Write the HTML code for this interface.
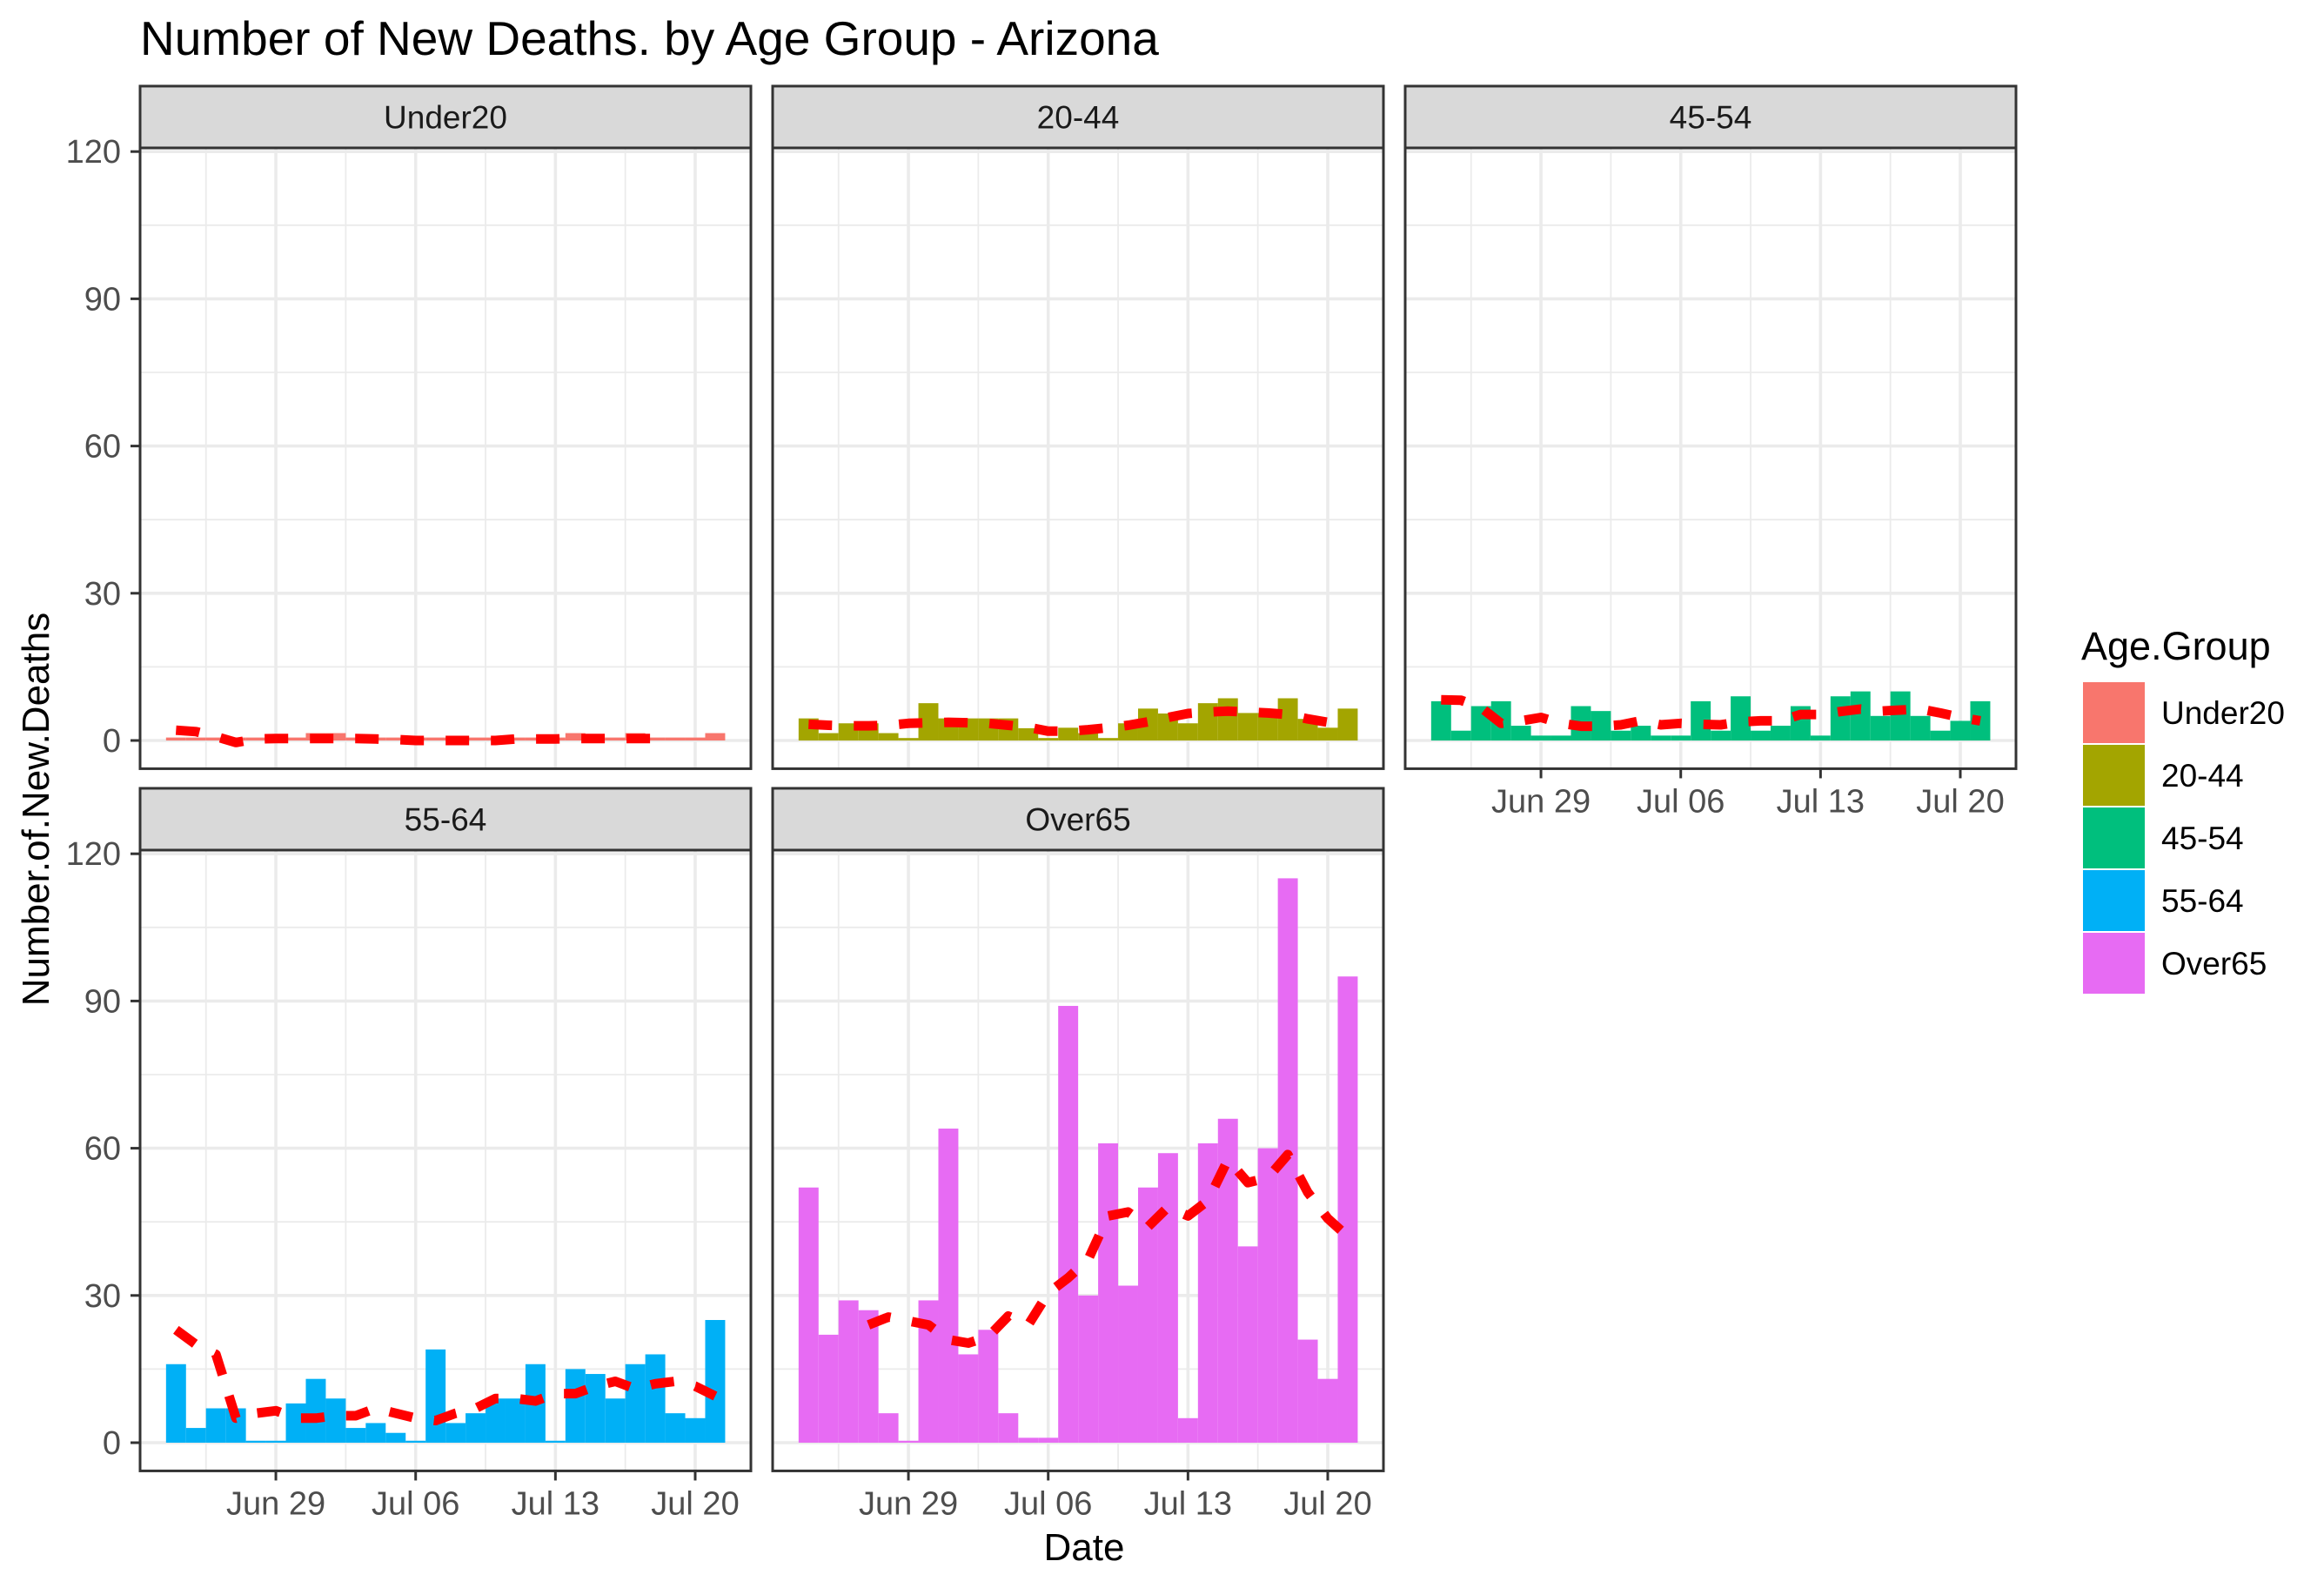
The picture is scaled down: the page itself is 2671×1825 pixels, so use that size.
<!DOCTYPE html>
<html><head><meta charset="utf-8"><title>Number of New Deaths by Age Group - Arizona</title>
<style>html,body{margin:0;padding:0;background:#fff}svg{display:block}</style></head>
<body>
<svg id="chart" xmlns="http://www.w3.org/2000/svg" width="2671" height="1825" viewBox="0 0 2671 1825" font-family="Liberation Sans, Arial, sans-serif">
<rect width="2671" height="1825" fill="#fff"/>
<text x="161" y="63" font-size="55" fill="#000">Number of New Deaths. by Age Group - Arizona</text>
<text x="1246" y="1793" font-size="44" text-anchor="middle" fill="#000">Date</text>
<text transform="translate(56,930) rotate(-90)" font-size="44" text-anchor="middle" fill="#000">Number.of.New.Deaths</text>
<g id="panels"></g>
<g id="legend">
<text x="2392" y="758" font-size="45" fill="#000">Age.Group</text>
</g>
</svg>
<script>
const dayLabels = ["Jun 24","Jun 25","Jun 26","Jun 27","Jun 28","Jun 29","Jun 30","Jul 01","Jul 02","Jul 03","Jul 04","Jul 05","Jul 06","Jul 07","Jul 08","Jul 09","Jul 10","Jul 11","Jul 12","Jul 13","Jul 14","Jul 15","Jul 16","Jul 17","Jul 18","Jul 19","Jul 20","Jul 21"];
const groups = ["Under20","20-44","45-54","55-64","Over65"];
const groupColors = ["#F8766D","#A3A500","#00BF7D","#00B0F6","#E76BF3"];
const xTickLabels = ["Jun 29","Jul 06","Jul 13","Jul 20"];
const yTickValues = [0,30,60,90,120];
const under20Deaths = [0.6,0.6,0.6,0.6,0.6,0.6,0.6,1.5,1.5,0.6,0.6,0.6,0.6,0.6,0.6,0.6,0.6,0.6,0.6,0.6,1.5,0.6,0.6,1.5,0.6,0.6,0.6,1.5];
const age2044Deaths = [4.5,1.5,3.5,3.5,1.5,0.5,7.6,4.5,4.5,4.5,4.5,2.5,0.5,2.6,1.5,0.5,3.5,6.5,5.5,3.5,7.6,8.6,5.6,5.6,8.6,4.4,2.6,6.5];
const age4554Deaths = [8,2,7,8,3,1,1,7,6,2,3,1,1,8,2,9,2,3,7,1,9,10,5,10,5,2,4,8];
const age5564Deaths = [16,3,7,7,0.4,0.4,8,13,9,3,4,2,0.4,19,4,6,9,9,16,0.4,15,14,9,16,18,6,5,25];
const over65Deaths = [52,22,29,27,6,0.4,29,64,18,23,6,1,1,89,30,61,32,52,59,5,61,66,40,60,115,21,13,95];
const under20Avg = [2.1,1.8,0.8,-0.4,0.3,0.4,0.4,0.4,0.4,0.4,0.3,0.2,0,0,0,0,0,0.3,0.3,0.3,0.4,0.4,0.4,0.4,0.4,null,null,null];
const age2044Avg = [3.3,3.1,3.0,3.0,3.1,3.5,3.6,3.7,3.6,3.5,3.1,2.7,1.9,1.9,2.2,2.6,3.1,3.8,4.7,5.5,5.8,6.0,5.8,5.6,5.3,4.4,3.7,null];
const age4554Avg = [8.3,8.2,6.7,3.5,4.0,4.7,3.5,2.9,2.9,3.2,4.0,3.2,3.5,3.3,3.2,3.8,4.0,4.0,5.3,5.3,5.9,6.4,6.0,6.2,6.4,5.6,4.7,4.0];
const age5564Avg = [23,20,18,5,6,6.5,5,5,5.5,5.5,7,6,5,4.5,6,7,9,9,8.5,10,10,11.5,12.5,11,12,12.5,11.5,9.5];
const over65Avg = [null,null,null,24,25.6,24.8,24,21,20.3,21.6,25.8,24,30.5,33.6,37.3,46.2,47,44,48,46.2,49.3,57.7,53,54,58.7,51,45.7,42];

const seriesValues = [under20Deaths, age2044Deaths, age4554Deaths, age5564Deaths, over65Deaths];
const seriesAvg = [under20Avg, age2044Avg, age4554Avg, age5564Avg, over65Avg];

const NS = "http://www.w3.org/2000/svg";
const PW = 702, DAYPX = 22.95, XMIN = -1.8;
const UNIT = 5.64, YMAX = 120.75, YMIN = -5.75;
const colLeft = [161, 888, 1615];
const rowZero = [851, 1658];
const panelPos = [[0,0],[1,0],[2,0],[0,1],[1,1]];
const tickIdx = xTickLabels.map(l => dayLabels.indexOf(l));

function mk(tag, attrs, parent){
  const e = document.createElementNS(NS, tag);
  for (const k in attrs) e.setAttribute(k, attrs[k]);
  parent.appendChild(e);
  return e;
}
const panelsG = document.getElementById('panels');

groups.forEach((g, gi) => {
  const col = panelPos[gi][0], row = panelPos[gi][1];
  const left = colLeft[col], zero = rowZero[row];
  const xs = d => left + (d - XMIN) * DAYPX;
  const ys = v => zero - v * UNIT;
  const top = ys(YMAX), bottom = ys(YMIN);
  const pg = mk('g', {}, panelsG);
  
  
  mk('rect', {x:left, y:top, width:PW, height:bottom-top, fill:'#fff'}, pg);
  const gridG = mk('g', {}, pg);
  
  
  for (let v = 15; v < YMAX; v += 30) mk('line', {x1:left, x2:left+PW, y1:ys(v), y2:ys(v), stroke:'#ebebeb', 'stroke-width':1.8}, gridG);
  tickIdx.forEach(t => { const m = t - 3.5; mk('line', {x1:xs(m), x2:xs(m), y1:top, y2:bottom, stroke:'#ebebeb', 'stroke-width':1.8}, gridG); });
  yTickValues.forEach(v => mk('line', {x1:left, x2:left+PW, y1:ys(v), y2:ys(v), stroke:'#ebebeb', 'stroke-width':3.6}, gridG));
  tickIdx.forEach(t => mk('line', {x1:xs(t), x2:xs(t), y1:top, y2:bottom, stroke:'#ebebeb', 'stroke-width':3.6}, gridG));
  const vals = seriesValues[gi];
  vals.forEach((v, i) => {
    const r = mk('rect', {x:xs(i-0.5), y:Math.min(ys(v), ys(0)), width:DAYPX, height:Math.abs(ys(0)-ys(v)), fill:groupColors[gi]}, pg);
    
    
  });
  const avg = seriesAvg[gi];
  let d = '', started = false;
  avg.forEach((v, i) => {
    if (v === null) { started = false; return; }
    d += (started ? 'L' : 'M') + xs(i).toFixed(1) + ',' + ys(v).toFixed(1);
    started = true;
  });
  const ln = mk('path', {d:d, fill:'none', stroke:'#ff0000', 'stroke-width':11, 'stroke-dasharray':'27 25', 'stroke-linejoin':'round'}, pg);
  
  
  mk('rect', {x:left, y:top, width:PW, height:bottom-top, fill:'none', stroke:'#333', 'stroke-width':3}, pg);
  const st = mk('rect', {x:left, y:top-71, width:PW, height:71, fill:'#d9d9d9', stroke:'#333', 'stroke-width':3}, pg);
  
  
  const stt = mk('text', {x:left+PW/2, y:top-35.5+13, 'font-size':37, 'text-anchor':'middle', fill:'#1a1a1a'}, pg);
  stt.textContent = g;
  
  
  if (col === 0) {
    yTickValues.forEach(v => {
      mk('line', {x1:left-11, x2:left, y1:ys(v), y2:ys(v), stroke:'#333', 'stroke-width':3}, pg);
      const t = mk('text', {x:left-22, y:ys(v)+13, 'font-size':38, 'text-anchor':'end', fill:'#4d4d4d'}, pg);
      t.textContent = v;
      
      
    });
  }
  if (row === 1 || col === 2) {
    tickIdx.forEach((ti, k) => {
      mk('line', {x1:xs(ti), x2:xs(ti), y1:bottom, y2:bottom+11, stroke:'#333', 'stroke-width':3}, pg);
      const t = mk('text', {x:xs(ti), y:bottom+50, 'font-size':38, 'text-anchor':'middle', fill:'#4d4d4d'}, pg);
      t.textContent = xTickLabels[k];
      
      
    });
  }
});

const legG = document.getElementById('legend');
groups.forEach((g, gi) => {
  const y0 = 784 + gi * 72;
  const k = mk('rect', {x:2394, y:y0, width:71, height:70, fill:groupColors[gi]}, legG);
  
  
  const t = mk('text', {x:2484, y:y0+35+13, 'font-size':37, fill:'#000'}, legG);
  t.textContent = g;
  
  
});
</script>
</body></html>
